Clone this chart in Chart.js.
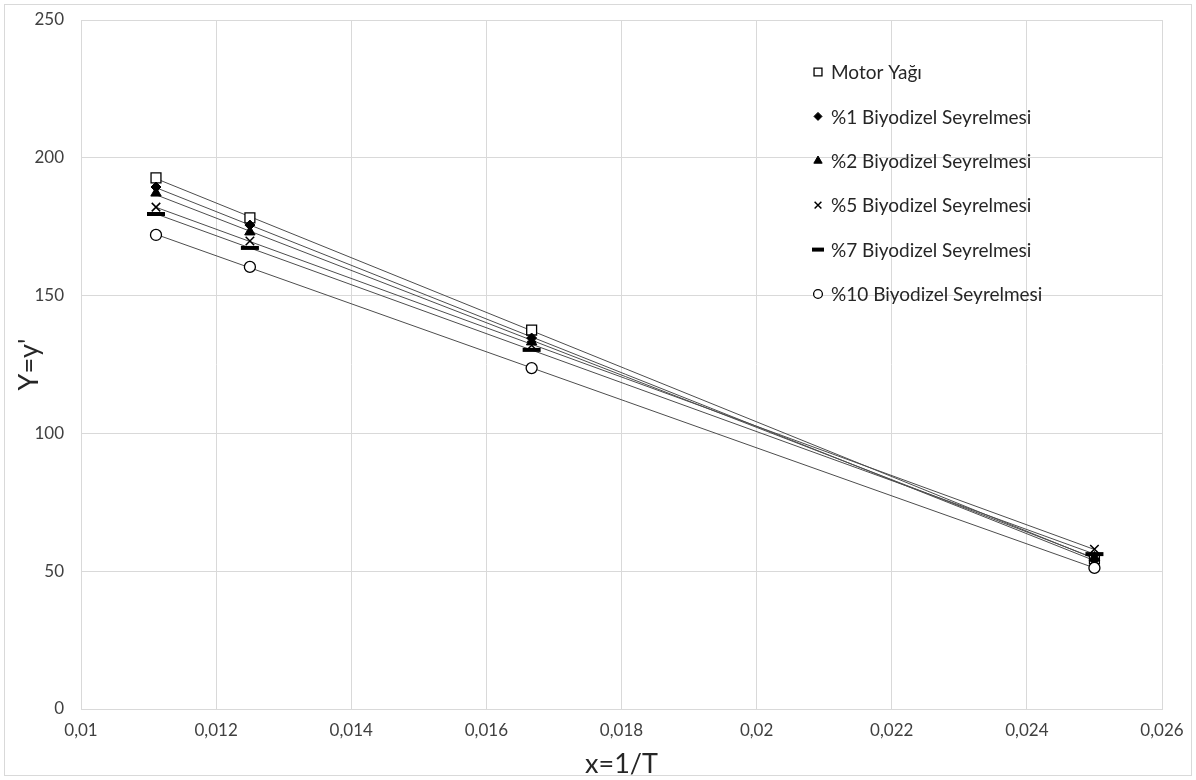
<!DOCTYPE html>
<html>
<head>
<meta charset="utf-8">
<script src="https://cdn.jsdelivr.net/npm/chart.js@4"></script>
<style>
  html, body { margin: 0; padding: 0; background: #fff; }
  #wrap { width: 1196px; height: 780px; }
</style>
</head>
<body>
<div id="wrap"><canvas id="chart" width="1196" height="780"></canvas></div>
<script>
// x = 1/T
const xValues = [0.01111, 0.0125, 0.01667, 0.025];

const seriesNames = [
    'Motor Yağı',
    '%1 Biyodizel Seyrelmesi',
    '%2 Biyodizel Seyrelmesi',
    '%5 Biyodizel Seyrelmesi',
    '%7 Biyodizel Seyrelmesi',
    '%10 Biyodizel Seyrelmesi'
];
const motorYagi = [192.7, 178.2, 137.5, 54.5];
const biyo1 = [189.4, 175.6, 134.6, 54.0];
const biyo2 = [187.2, 173.1, 133.2, 55.0];
const biyo5 = [182.1, 169.8, 132.0, 58.0];
const biyo7 = [179.6, 167.3, 130.3, 56.2];
const biyo10 = [172.0, 160.4, 123.7, 51.2];
const allSeries = [motorYagi, biyo1, biyo2, biyo5, biyo7, biyo10];

const xTicks = [0.01, 0.012, 0.014, 0.016, 0.018, 0.02, 0.022, 0.024, 0.026];
const yTicks = [0, 50, 100, 150, 200, 250];

const markers = [
    { pointStyle: 'rect', radius: 7, borderWidth: 1.3, fill: '#fff' },
    { pointStyle: 'rectRot', radius: 5, borderWidth: 1, fill: '#000' },
    { pointStyle: 'triangle', radius: 6, borderWidth: 1, fill: '#000' },
    { pointStyle: 'crossRot', radius: 6, borderWidth: 1.5, fill: '#000' },
    { pointStyle: 'line', radius: 9, borderWidth: 4, fill: '#000' },
    { pointStyle: 'circle', radius: 5.5, borderWidth: 1.3, fill: '#fff' }
];

// linear least-squares trendline endpoints for each series
function trend(ys) {
    const n = xValues.length;
    let sx = 0, sy = 0, sxx = 0, sxy = 0;
    for (let i = 0; i < n; i++) {
        sx += xValues[i]; sy += ys[i];
        sxx += xValues[i] * xValues[i]; sxy += xValues[i] * ys[i];
    }
    const b = (n * sxy - sx * sy) / (n * sxx - sx * sx);
    const a = (sy - b * sx) / n;
    const x0 = xValues[0], x1 = xValues[n - 1];
    return [{ x: x0, y: a + b * x0 }, { x: x1, y: a + b * x1 }];
}

const datasets = [];
allSeries.forEach((ys, i) => {
    datasets.push({
        type: 'line',
        label: 'trend' + i,
        data: trend(ys),
        borderColor: '#4d4d4d',
        borderWidth: 1,
        pointRadius: 0,
        pointHoverRadius: 0,
        fill: false,
        order: 10
    });
});
allSeries.forEach((ys, i) => {
    const m = markers[i];
    datasets.push({
        type: 'scatter',
        label: seriesNames[i],
        data: ys.map((y, j) => ({ x: xValues[j], y: y })),
        pointStyle: m.pointStyle,
        pointRadius: m.radius,
        pointHoverRadius: m.radius,
        pointBorderWidth: m.borderWidth,
        pointBorderColor: '#000',
        pointBackgroundColor: m.fill,
        showLine: false,
        order: 6 - i
    });
});

const fontFamily = 'Lato, "Liberation Sans", sans-serif';

const insideLegend = {
    id: 'insideLegend',
    afterDraw(chart) {
        const ctx = chart.ctx;
        ctx.save();
        const x0 = 818, y0 = 72, step = 44.4;
        seriesNames.forEach((name, i) => {
            const m = markers[i];
            const y = y0 + i * step;
            ctx.fillStyle = m.fill;
            ctx.strokeStyle = '#000';
            ctx.lineWidth = m.borderWidth;
            Chart.helpers.drawPoint(ctx, {
                pointStyle: m.pointStyle,
                radius: m.pointStyle === 'line' ? 6 : m.radius * 0.8,
                rotation: 0,
                borderWidth: m.borderWidth
            }, x0, y);
            ctx.fillStyle = '#262626';
            ctx.font = '19px ' + fontFamily;
            ctx.textAlign = 'left';
            ctx.textBaseline = 'middle';
            ctx.fillText(name, x0 + 13, y + 1);
        });
        ctx.restore();
    }
};

const outerBorder = {
    id: 'outerBorder',
    afterDraw(chart) {
        const ctx = chart.ctx;
        ctx.save();
        ctx.strokeStyle = '#d9d9d9';
        ctx.lineWidth = 1;
        ctx.strokeRect(4.5, 4.5, chart.width - 9, chart.height - 9);
        ctx.restore();
    }
};

const fmt = v => String(Math.round(v * 1000) / 1000).replace('.', ',');

new Chart(document.getElementById('chart'), {
    data: { datasets: datasets },
    options: {
        responsive: false,
        animation: false,
        layout: { padding: { left: 13, top: 20, right: 34, bottom: 0 } },
        plugins: {
            legend: { display: false },
            tooltip: { enabled: false }
        },
        scales: {
            x: {
                type: 'linear',
                min: 0.01,
                max: 0.026,
                afterBuildTicks: axis => { axis.ticks = xTicks.map(v => ({ value: v })); },
                afterFit: axis => {
                    axis.height = 71;
                    axis.paddingLeft = 0;
                    axis.paddingRight = 0;
                },
                ticks: {
                    callback: v => fmt(v),
                    color: '#404040',
                    font: { size: 17, family: fontFamily },
                    padding: 11,
                    maxRotation: 0
                },
                grid: { color: '#d9d9d9', drawTicks: false },
                border: { color: '#d9d9d9' },
                title: {
                    display: true,
                    text: 'x=1/T',
                    color: '#262626',
                    font: { size: 27, family: fontFamily },
                    padding: { top: 0, bottom: 0 }
                }
            },
            y: {
                type: 'linear',
                min: 0,
                max: 250,
                afterBuildTicks: axis => { axis.ticks = yTicks.map(v => ({ value: v })); },
                afterFit: axis => {
                    axis.width = 68;
                    axis.paddingTop = 0;
                    axis.paddingBottom = 0;
                },
                ticks: {
                    color: '#404040',
                    font: { size: 17, family: fontFamily },
                    padding: 17
                },
                grid: { color: '#d9d9d9', drawTicks: false },
                border: { color: '#d9d9d9' },
                title: {
                    display: true,
                    text: "Y=y'",
                    color: '#262626',
                    font: { size: 27, family: fontFamily },
                    padding: { top: 0, bottom: 0 }
                }
            }
        }
    },
    plugins: [insideLegend, outerBorder]
});
</script>
</body>
</html>
